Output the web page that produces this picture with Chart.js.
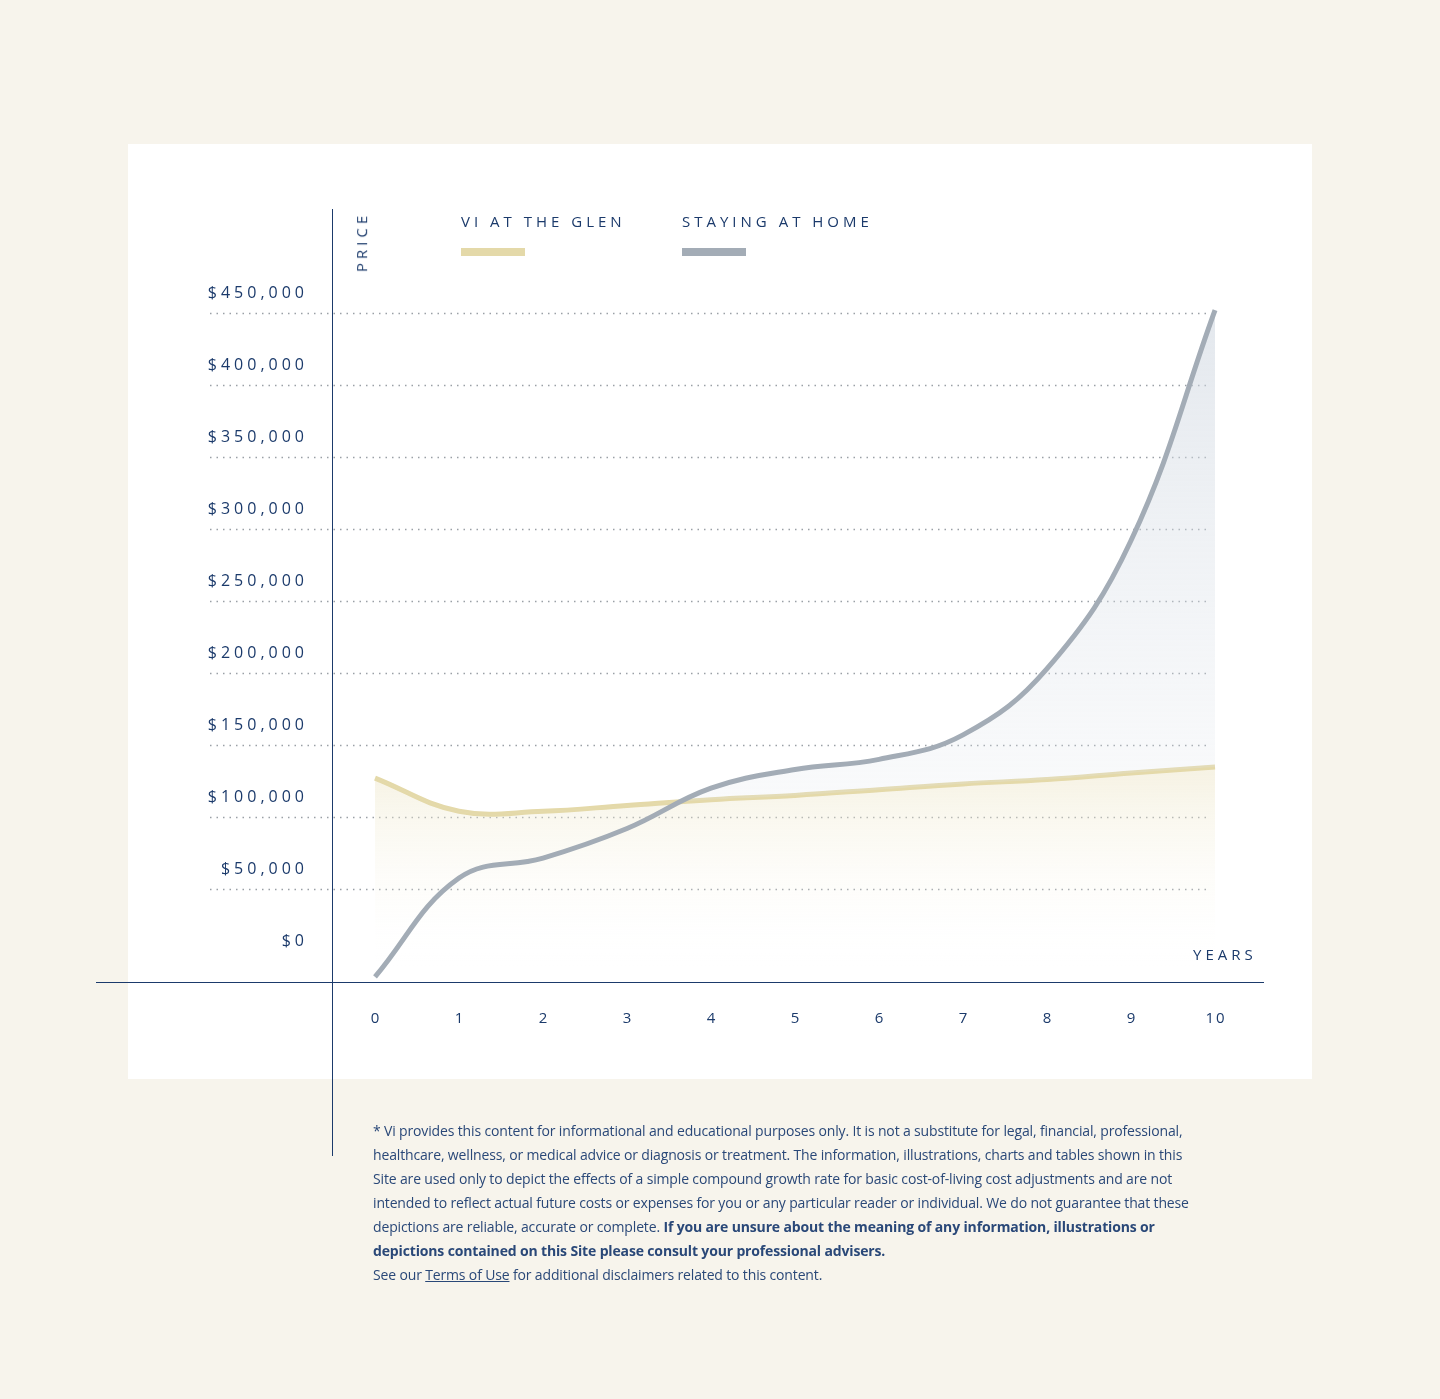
<!DOCTYPE html>
<html>
<head>
<meta charset="utf-8">
<script src="https://cdn.jsdelivr.net/npm/chart.js@4.4.1/dist/chart.umd.min.js"></script>
<style>
  body { margin:0; background:#f7f4ec; font-family:"Open Sans", sans-serif; }
  #page { position:relative; width:1440px; height:1399px; }
  #card { position:absolute; left:128px; top:144px; width:1184px; height:935px; background:#fff; }
  #wrap { position:absolute; left:0; top:0; width:1440px; height:1160px; }
  .lbl { position:absolute; color:#1b3a6b; font-size:15px; letter-spacing:4px; white-space:nowrap; }
  .sw { position:absolute; width:64px; height:8px; }
  #vline { position:absolute; left:332px; top:209px; width:1px; height:947px; background:#1b3a6b; }
  #hline { position:absolute; left:96px; top:982px; width:1168px; height:1px; background:#1b3a6b; }
  #note { position:absolute; left:373px; top:1119px; width:835px; font-size:14px; line-height:24px; color:#2a4878; letter-spacing:-0.15px; }
  #note a { color:#2a4878; }
</style>
</head>
<body>
<div id="page">
  <div id="card"></div>
  <div id="wrap"><canvas id="c"></canvas></div>
  <div id="vline"></div>
  <div id="hline"></div>
  <div class="lbl" style="left:461px;top:211px;">VI AT THE GLEN</div>
  <div class="sw" style="left:461px;top:248px;background:#e4d9a9;"></div>
  <div class="lbl" style="left:682px;top:211px;">STAYING AT HOME</div>
  <div class="sw" style="left:682px;top:248px;background:#a3acb6;"></div>
  <div class="lbl" style="left:331px;top:232px;transform:rotate(-90deg);transform-origin:center;">PRICE</div>
  <div class="lbl" style="left:1193px;top:944px;">YEARS</div>
  <div id="note">* Vi provides this content for informational and educational purposes only. It is not a substitute for legal, financial, professional, healthcare, wellness, or medical advice or diagnosis or treatment. The information, illustrations, charts and tables shown in this Site are used only to depict the effects of a simple compound growth rate for basic cost-of-living cost adjustments and are not intended to reflect actual future costs or expenses for you or any particular reader or individual. We do not guarantee that these depictions are reliable, accurate or complete. <b>If you are unsure about the meaning of any information, illustrations or depictions contained on this Site please consult your professional advisers.</b><br>See our <a href="#">Terms of Use</a> for additional disclaimers related to this content.</div>
</div>
<script>
const years = [0,1,2,3,4,5,6,7,8,9,10];
const glenValues = [127000,104000,104000,108000,112000,115000,119000,123000,126000,130500,134700];
const homeValues = [-11000,57600,71500,92000,120000,133000,140000,157000,203000,292000,452000];
const yTicks = [0,50000,100000,150000,200000,250000,300000,350000,400000,450000];

const navy = "#1b3a6b";

const decor = {
  id: "decor",
  beforeDatasetsDraw(chart) {
    const ctx = chart.ctx, y = chart.scales.y;
    ctx.save();
    ctx.strokeStyle = "#9aa0a6";
    ctx.lineWidth = 1.3;
    ctx.setLineDash([1.5, 5]);
    yTicks.forEach(v => {
      if (v === 0) return;
      const py = Math.round(y.getPixelForValue(v)) + 0.5;
      ctx.beginPath(); ctx.moveTo(210, py); ctx.lineTo(1211, py); ctx.stroke();
    });
    ctx.restore();
  },
  afterDraw(chart) {
    const ctx = chart.ctx, x = chart.scales.x, y = chart.scales.y;
    ctx.save();
    ctx.fillStyle = navy;
    ctx.font = "16px 'Open Sans'";
    ctx.letterSpacing = "4px";
    ctx.textAlign = "right";
    ctx.textBaseline = "middle";
    yTicks.forEach(v => {
      const label = "$" + v.toLocaleString("en-US");
      ctx.fillText(label, 308, y.getPixelForValue(v) - 20);
    });
    ctx.font = "15px 'Open Sans'";
    ctx.textAlign = "center";
    ctx.letterSpacing = "2px";
    years.forEach(v => ctx.fillText(String(v), x.getPixelForValue(v) + 1, 1019));
    ctx.restore();
  }
};

function grad(ctx, top, bottom, stops) {
  const area = ctx.chart.chartArea;
  if (!area) return stops[0];
  const ys = ctx.chart.scales.y;
  const g = ctx.chart.ctx.createLinearGradient(0, ys.getPixelForValue(top), 0, ys.getPixelForValue(bottom));
  g.addColorStop(0, stops[0]); g.addColorStop(1, stops[1]);
  return g;
}

new Chart(document.getElementById("c"), {
  type: "line",
  data: {
    labels: years,
    datasets: [
      {
        label: "Vi at the Glen",
        data: glenValues,
        borderColor: "#e4d9a9",
        borderWidth: 5,
        tension: 0.4,
        pointRadius: 0,
        fill: "start",
        backgroundColor: c => grad(c, 130000, -5000, ["rgba(236,228,196,0.45)", "rgba(255,255,255,0)"]),
        order: 1
      },
      {
        label: "Staying at Home",
        data: homeValues,
        borderColor: "#a3acb6",
        borderWidth: 5,
        tension: 0.4,
        pointRadius: 0,
        fill: { target: 0, above: c => grad(c, 450000, 110000, ["rgba(205,213,223,0.55)", "rgba(225,230,236,0.2)"]), below: "rgba(0,0,0,0)" },
        order: 0
      }
    ]
  },
  options: {
    responsive: true,
    maintainAspectRatio: false,
    animation: false,
    layout: { padding: { left: 332, right: 176, top: 230, bottom: 178 } },
    plugins: { legend: { display: false }, tooltip: { enabled: false } },
    scales: {
      x: { type: "linear", min: -0.512, max: 10.583, display: false },
      y: { min: -14583, max: 507639, display: false }
    }
  },
  plugins: [decor]
});
</script>
</body>
</html>
